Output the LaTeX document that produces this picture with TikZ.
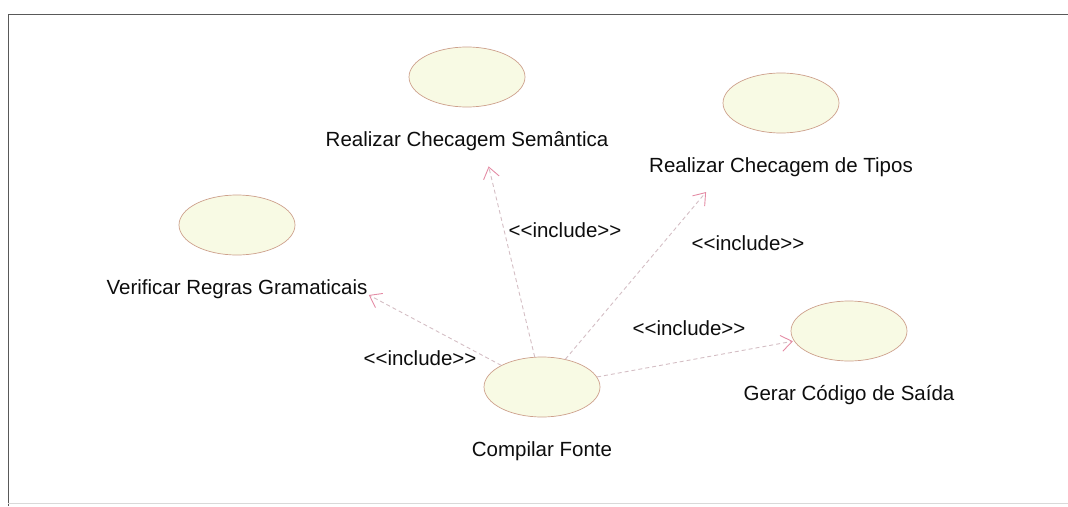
\documentclass[tikz,border=0pt]{standalone}
\usepackage{fontspec}
\setmainfont{Liberation Sans}
\usepackage{tikz}
\usetikzlibrary{arrows.meta,positioning,shapes.geometric}
\definecolor{ucfill}{RGB}{248,250,228}
\definecolor{ucedge}{RGB}{205,160,140}
\definecolor{deplink}{RGB}{212,190,196}
\definecolor{deptip}{RGB}{228,140,165}
\newcommand{\incl}{{<}{<}include{>}{>}}
\tikzset{usecase/.style={draw=ucedge,fill=ucfill,ellipse,minimum width=116pt,minimum height=60pt,line width=0.7pt},
  uclabel/.style={font=\fontsize{20.5}{24}\selectfont,text=black!95,inner sep=0pt,text height=15pt,text depth=4pt},
  inclink/.style={draw=deplink,dash pattern=on 4pt off 3pt,line width=0.9pt,-{Straight Barb[color=deptip,length=11pt,width=16pt]}}}

\begin{document}
\begin{tikzpicture}[x=1pt,y=-1pt]
    \useasboundingbox (0,0) rectangle (1068,506);
    \draw[black!65,line width=1pt] (1068,14) -- (8,14) -- (8,506);
    \draw[black!15] (8,503) -- (1068,503);

    \node[usecase] (sem) at (467,77) {};
    \node[usecase] (tipos) at (781,103) {};
    \node[usecase] (verif) at (237,225) {};
    \node[usecase] (comp) at (542,387) {};
    \node[usecase] (gerar) at (849,331) {};
    \foreach \uc/\txt in {sem/Realizar Checagem Semântica,tipos/Realizar Checagem de Tipos,
        verif/Verificar Regras Gramaticais,comp/Compilar Fonte,gerar/Gerar Código de Saída} {
      \node[uclabel,below=24pt of \uc] (\uc lbl) {\txt};
    }

    \foreach \uc/\cut in {sem/61,tipos/80,verif/103,gerar/1} {
      \draw[inclink,shorten >=\cut pt] (comp) -- (\uc);
    }
    \node[uclabel] (incsem) at (565,232) {\incl};
    \node[uclabel] (inctipos) at (748,245) {\incl};
    \node[uclabel] (incverif) at (420,360) {\incl};
    \node[uclabel] (incgerar) at (689,330) {\incl};
  \end{tikzpicture}
\end{document}
